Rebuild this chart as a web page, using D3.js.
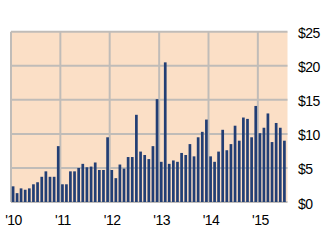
<!DOCTYPE html>
<html>
<head>
<meta charset="utf-8">
<script src="https://cdn.jsdelivr.net/npm/d3@7"></script>
<style>
  html, body { margin: 0; padding: 0; background: #ffffff; }
  svg { display: block; }
  text { font-family: "Liberation Sans", Arial, sans-serif; fill: #000; }
</style>
</head>
<body>
<script>
// Monthly values, Jan 2010 – Jul 2015 (dollars)
const startMonth = "2010-01";
const values2010 = [2.3, 1.3, 2.0, 1.8, 2.0, 2.6, 2.9, 3.7, 4.5, 3.7, 3.7, 8.2];
const values2011 = [2.6, 2.6, 4.5, 4.5, 5.0, 5.6, 5.1, 5.2, 5.8, 4.7, 4.7, 9.5];
const values2012 = [4.7, 3.5, 5.5, 4.9, 6.6, 6.6, 12.8, 7.4, 6.9, 6.3, 8.2, 15.1];
const values2013 = [5.9, 20.5, 5.6, 6.1, 5.9, 7.2, 6.9, 8.5, 6.7, 9.5, 10.3, 12.1];
const values2014 = [6.7, 5.9, 7.4, 10.6, 7.6, 8.5, 11.2, 9.0, 12.4, 12.2, 9.5, 14.1];
const values2015 = [10.1, 10.9, 13.0, 8.8, 11.6, 10.9, 9.0];
const yTicks = [0, 5, 10, 15, 20, 25];
const yTickLabels = ["$0", "$5", "$10", "$15", "$20", "$25"];
const xTickYears = [2010, 2011, 2012, 2013, 2014, 2015];
const xTickLabels = ["'10", "'11", "'12", "'13", "'14", "'15"];

const allValues = [].concat(values2010, values2011, values2012, values2013, values2014, values2015);
const parseMonth = d3.utcParse("%Y-%m");
const start = parseMonth(startMonth);
const data = allValues.map((v, i) => ({ date: d3.utcMonth.offset(start, i), value: v }));

const W = 321, H = 244;
const svg = d3.select("body").append("svg").attr("width", W).attr("height", H);

const x = d3.scaleUtc()
  .domain([start, d3.utcMonth.offset(start, allValues.length)])
  .range([11, 286.5]);
const y = d3.scaleLinear().domain([0, 25]).range([202, 31.7]);

// plot background
svg.append("rect")
  .attr("x", x.range()[0]).attr("y", y(25))
  .attr("width", x.range()[1] + 1 - x.range()[0])
  .attr("height", y(0) - y(25))
  .attr("fill", "#fbdfc6");

const gridColor = "#c0bcb8";
// horizontal grid
svg.append("g").selectAll("line").data(yTicks).join("line")
  .attr("x1", x.range()[0]).attr("x2", x.range()[1] + 1)
  .attr("y1", d => y(d)).attr("y2", d => y(d))
  .attr("stroke", gridColor).attr("stroke-width", 2);
// vertical grid at years
const yearDates = xTickYears.map(yr => new Date(Date.UTC(yr, 0, 1)));
svg.append("g").selectAll("line").data(yearDates).join("line")
  .attr("x1", d => x(d)).attr("x2", d => x(d))
  .attr("y1", y(25)).attr("y2", y(0))
  .attr("stroke", gridColor).attr("stroke-width", 2);

// bars
const barW = 2.7;
svg.append("g").selectAll("rect").data(data).join("rect")
  .attr("x", d => {
    const a = x(d.date), b = x(d3.utcMonth.offset(d.date, 1));
    return (a + b) / 2 - barW / 2;
  })
  .attr("y", d => y(d.value))
  .attr("width", barW)
  .attr("height", d => y(0) - y(d.value))
  .attr("fill", "#223e74");

// right y labels
svg.append("g").selectAll("text").data(yTicks).join("text")
  .attr("x", 298)
  .attr("y", d => y(d) + 6.5)
  .attr("font-size", "14px")
  .attr("letter-spacing", "-0.5px")
  .text((d, i) => yTickLabels[i]);

// bottom x labels
svg.append("g").selectAll("text").data(yearDates).join("text")
  .attr("x", d => x(d) + 2.5)
  .attr("y", 225)
  .attr("text-anchor", "middle")
  .attr("font-size", "14px")
  .attr("letter-spacing", "-0.5px")
  .text((d, i) => xTickLabels[i]);
</script>
</body>
</html>
